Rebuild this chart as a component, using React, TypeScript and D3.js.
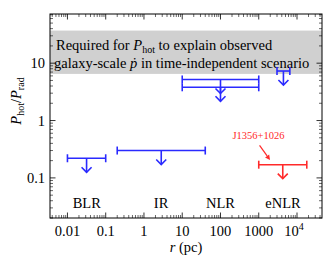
import React from "react";
import * as d3 from "d3";

const W = 329;
const H = 263;

// Region bars (blue): radial extent, upper-limit ratio
const regionRMin = [0.01, 0.2, 10, 10, 3000];
const regionRMax = [0.1, 40, 1000, 1000, 6500];
const regionRatio = [0.22, 0.3, 5.2, 3.8, 7.3];

// J1356+1026 (red)
const objName = "J1356+1026";
const objRMin = [1000];
const objRMax = [18000];
const objRatio = [0.17];
const objLabelPos = [980, 0.47];
const objArrowFrom = [1050, 0.37];
const objArrowTo = [1970, 0.205];

// Category labels
const catNames = ["BLR", "IR", "NLR", "eNLR"];
const catX = [0.032, 2.8, 100, 4300];
const catY = 0.037;

// Required band
const bandLow = 6.5;
const bandHigh = 37;

const xTicks = [0.01, 0.1, 1, 10, 100, 1000, 10000];
const xTickLabels = ["0.01", "0.1", "1", "10", "100", "1000", "10^4"];
const yTicks = [0.1, 1, 10];
const yTickLabels = ["0.1", "1", "10"];

const xDomain = [0.0035, 45000];
const yDomain = [0.02, 72];

const M = { left: 50, right: 322, top: 14, bottom: 218 };
const FONT = "'Liberation Serif', 'Times New Roman', 'DejaVu Serif', serif";
const BLUE = "#2a2aff";
const RED = "#ff2a2a";
const FS = 14.5;
const FSS = 10;

function minorTicks(domain: number[]) {
  const out: number[] = [];
  const lo = Math.floor(Math.log10(domain[0]));
  const hi = Math.ceil(Math.log10(domain[1]));
  for (let e = lo; e <= hi; e++) {
    for (let k = 2; k <= 9; k++) {
      const v = k * Math.pow(10, e);
      if (v >= domain[0] && v <= domain[1]) out.push(v);
    }
  }
  return out;
}

function UpperLimit({ x, y, r0, r1, v, color }: any) {
  const xl = x(r0);
  const xr = x(r1);
  const xc = x(Math.sqrt(r0 * r1));
  const yv = y(v);
  const len = 14;
  const cap = 4;
  const ah = 5;
  return (
    <g stroke={color} strokeWidth={1.6} fill="none">
      <line x1={xl} x2={xr} y1={yv} y2={yv} />
      <line x1={xl} x2={xl} y1={yv - cap} y2={yv + cap} />
      <line x1={xr} x2={xr} y1={yv - cap} y2={yv + cap} />
      <line x1={xc} x2={xc} y1={yv} y2={yv + len} />
      <polyline points={`${xc - ah},${yv + len - ah} ${xc},${yv + len} ${xc + ah},${yv + len - ah}`} />
    </g>
  );
}

export default function App() {
  const x = d3.scaleLog().domain(xDomain).range([M.left, M.right]);
  const y = d3.scaleLog().domain(yDomain).range([M.bottom, M.top]);
  const xMinor = minorTicks(xDomain).filter((v) => !xTicks.includes(v));
  const yMinor = minorTicks(yDomain);

  const majL = 5.5;
  const minL = 3;

  const ax1 = x(objArrowFrom[0]);
  const ay1 = y(objArrowFrom[1]);
  const ax2 = x(objArrowTo[0]);
  const ay2 = y(objArrowTo[1]);
  const ang = Math.atan2(ay2 - ay1, ax2 - ax1);
  const hl = 5;
  const hw = 2.5;
  const bx = ax2 - hl * Math.cos(ang);
  const by = ay2 - hl * Math.sin(ang);
  const head = `${ax2},${ay2} ${bx - hw * Math.sin(ang)},${by + hw * Math.cos(ang)} ${bx + hw * Math.sin(ang)},${by - hw * Math.cos(ang)}`;

  return (
    <svg width={W} height={H} style={{ position: "absolute", left: 0, top: 0, background: "#fff", fontFamily: FONT }}>
      {/* Band */}
      <rect x={M.left} width={M.right - M.left} y={y(bandHigh)} height={y(bandLow) - y(bandHigh)} fill="#d0d0d0" />
      <text x={56} y={y(bandHigh) + 19} fontSize={FS} fill="#000">
        Required for <tspan fontStyle="italic">P</tspan>
        <tspan fontSize={FSS} dy={3}>hot</tspan>
        <tspan dy={-3}> to explain observed</tspan>
      </text>
      <text x={54} y={y(bandHigh) + 37} fontSize={FS} fill="#000">
        galaxy-scale <tspan fontStyle="italic">{"\u1E57"}</tspan> in time-independent scenario
      </text>

      {/* Frame */}
      <rect x={M.left} y={M.top} width={M.right - M.left} height={M.bottom - M.top} fill="none" stroke="#000" strokeWidth={1} />

      {/* X ticks */}
      {xTicks.map((t) => (
        <g key={"xm" + t} stroke="#000" strokeWidth={0.8}>
          <line x1={x(t)} x2={x(t)} y1={M.bottom} y2={M.bottom - majL} />
          <line x1={x(t)} x2={x(t)} y1={M.top} y2={M.top + majL} />
        </g>
      ))}
      {xMinor.map((t) => (
        <g key={"xn" + t} stroke="#000" strokeWidth={0.6}>
          <line x1={x(t)} x2={x(t)} y1={M.bottom} y2={M.bottom - minL} />
          <line x1={x(t)} x2={x(t)} y1={M.top} y2={M.top + minL} />
        </g>
      ))}
      {/* Y ticks */}
      {yTicks.map((t) => (
        <g key={"ym" + t} stroke="#000" strokeWidth={0.8}>
          <line x1={M.left} x2={M.left + majL} y1={y(t)} y2={y(t)} />
          <line x1={M.right} x2={M.right - majL} y1={y(t)} y2={y(t)} />
        </g>
      ))}
      {yMinor.map((t) => (
        <g key={"yn" + t} stroke="#000" strokeWidth={0.6}>
          <line x1={M.left} x2={M.left + minL} y1={y(t)} y2={y(t)} />
          <line x1={M.right} x2={M.right - minL} y1={y(t)} y2={y(t)} />
        </g>
      ))}

      {/* X tick labels */}
      {xTicks.map((t, i) => {
        const lab = xTickLabels[i];
        if (lab.includes("^")) {
          const [b, e] = lab.split("^");
          return (
            <text key={"xl" + t} x={x(t) - 3} y={M.bottom + 18} fontSize={FS} textAnchor="middle">
              {b}
              <tspan fontSize={FSS} dy={-6}>{e}</tspan>
            </text>
          );
        }
        return (
          <text key={"xl" + t} x={x(t)} y={M.bottom + 18} fontSize={FS} textAnchor="middle">
            {lab}
          </text>
        );
      })}
      {/* Y tick labels */}
      {yTicks.map((t, i) => (
        <text key={"yl" + t} x={M.left - 5} y={y(t) + 5} fontSize={FS} textAnchor="end">
          {yTickLabels[i]}
        </text>
      ))}

      {/* Axis labels */}
      <text x={(M.left + M.right) / 2} y={252} fontSize={FS} textAnchor="middle">
        <tspan fontStyle="italic">r</tspan> (pc)
      </text>
      <text transform={`translate(21, 101) rotate(-90)`} fontSize={FS} textAnchor="middle">
        <tspan fontStyle="italic">P</tspan>
        <tspan fontSize={FSS} dy={3}>hot</tspan>
        <tspan dy={-3}>/</tspan>
        <tspan fontStyle="italic">P</tspan>
        <tspan fontSize={FSS} dy={3}>rad</tspan>
      </text>

      {/* Blue upper limits */}
      {regionRatio.map((v, i) => (
        <UpperLimit key={"r" + i} x={x} y={y} r0={regionRMin[i]} r1={regionRMax[i]} v={v} color={BLUE} />
      ))}
      {/* Red object */}
      {objRatio.map((v, i) => (
        <UpperLimit key={"o" + i} x={x} y={y} r0={objRMin[i]} r1={objRMax[i]} v={v} color={RED} />
      ))}
      <text x={x(objLabelPos[0])} y={y(objLabelPos[1])} fontSize={10.5} fill={RED} textAnchor="middle">
        {objName}
      </text>
      <line x1={ax1} y1={ay1} x2={bx} y2={by} stroke={RED} strokeWidth={1.2} />
      <polygon points={head} fill={RED} />

      {/* Category labels */}
      {catNames.map((c, i) => (
        <text key={c} x={x(catX[i])} y={y(catY)} dy={5} fontSize={FS} textAnchor="middle">
          {c}
        </text>
      ))}
    </svg>
  );
}
